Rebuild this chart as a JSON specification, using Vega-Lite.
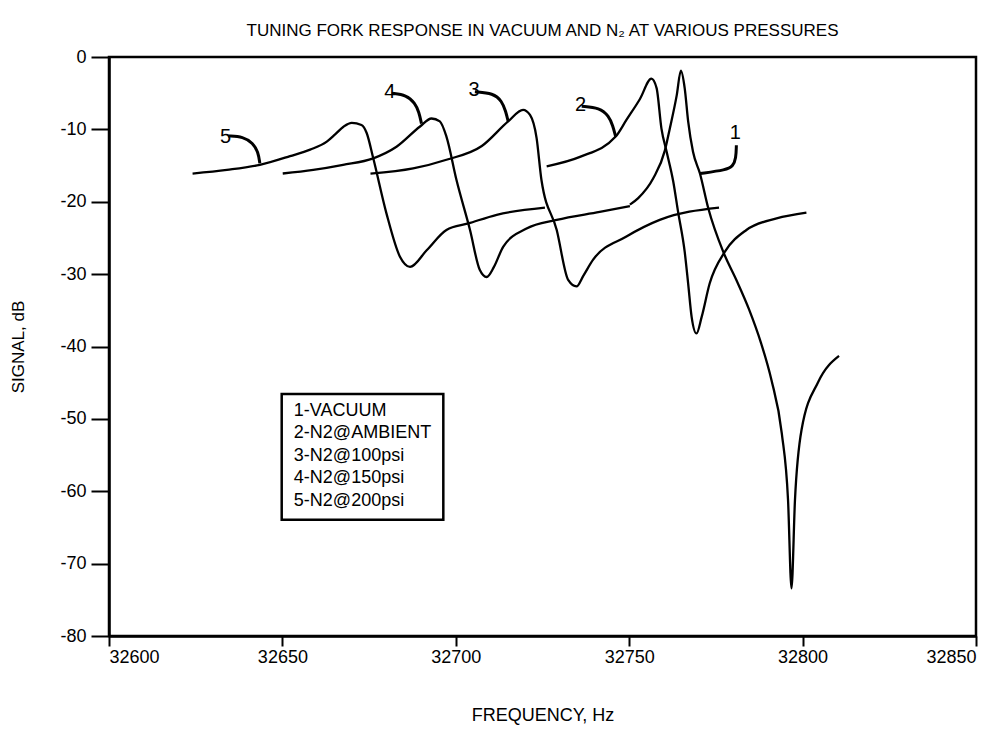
{
  "$schema": "https://vega.github.io/schema/vega-lite/v6.json",
  "width": 867,
  "height": 579,
  "autosize": {"type": "none"},
  "padding": {"left": 109, "top": 57, "right": 27, "bottom": 97},
  "background": "white",
  "title": {
    "text": "TUNING FORK RESPONSE IN VACUUM AND N₂ AT VARIOUS PRESSURES",
    "font": "Liberation Sans",
    "fontSize": 17,
    "fontWeight": "normal",
    "color": "black",
    "anchor": "middle",
    "offset": 8
  },
  "config": {
    "view": {"stroke": "black", "strokeWidth": 2.5},
    "axis": {
      "domainColor": "black",
      "domainWidth": 2.5,
      "tickColor": "black",
      "tickWidth": 2,
      "grid": false,
      "labelFont": "Liberation Sans",
      "labelFontSize": 18,
      "labelColor": "black",
      "titleFont": "Liberation Sans",
      "titleFontSize": 18,
      "titleFontWeight": "normal",
      "titleColor": "black"
    }
  },
  "datasets": {
    "curves": [
      {"series": "5", "f": 32624.1, "db": -16.1},
      {"series": "5", "f": 32634.0, "db": -15.6},
      {"series": "5", "f": 32643.5, "db": -14.9},
      {"series": "5", "f": 32652.2, "db": -13.7},
      {"series": "5", "f": 32658.0, "db": -12.8},
      {"series": "5", "f": 32662.8, "db": -11.7},
      {"series": "5", "f": 32665.2, "db": -10.7},
      {"series": "5", "f": 32667.7, "db": -9.6},
      {"series": "5", "f": 32670.0, "db": -9.1},
      {"series": "5", "f": 32672.8, "db": -9.4},
      {"series": "5", "f": 32674.3, "db": -10.5},
      {"series": "5", "f": 32676.2, "db": -14.0},
      {"series": "5", "f": 32680.0, "db": -21.6},
      {"series": "5", "f": 32683.9, "db": -27.6},
      {"series": "5", "f": 32686.8, "db": -29.0},
      {"series": "5", "f": 32691.6, "db": -26.7},
      {"series": "5", "f": 32697.3, "db": -23.9},
      {"series": "5", "f": 32703.6, "db": -23.0},
      {"series": "5", "f": 32711.8, "db": -21.8},
      {"series": "5", "f": 32725.7, "db": -20.8},

      {"series": "4", "f": 32650.1, "db": -16.1},
      {"series": "4", "f": 32658.9, "db": -15.6},
      {"series": "4", "f": 32667.5, "db": -14.9},
      {"series": "4", "f": 32676.2, "db": -14.0},
      {"series": "4", "f": 32682.9, "db": -12.4},
      {"series": "4", "f": 32689.7, "db": -9.6},
      {"series": "4", "f": 32693.0, "db": -8.5},
      {"series": "4", "f": 32695.4, "db": -8.9},
      {"series": "4", "f": 32697.3, "db": -11.0},
      {"series": "4", "f": 32700.2, "db": -17.0},
      {"series": "4", "f": 32704.1, "db": -23.9},
      {"series": "4", "f": 32706.9, "db": -29.4},
      {"series": "4", "f": 32708.9, "db": -30.4},
      {"series": "4", "f": 32711.0, "db": -29.0},
      {"series": "4", "f": 32713.7, "db": -26.2},
      {"series": "4", "f": 32720.4, "db": -23.7},
      {"series": "4", "f": 32729.1, "db": -22.5},
      {"series": "4", "f": 32741.5, "db": -21.4},
      {"series": "4", "f": 32750.2, "db": -20.6},

      {"series": "3", "f": 32675.4, "db": -16.1},
      {"series": "3", "f": 32687.7, "db": -15.4},
      {"series": "3", "f": 32697.3, "db": -14.2},
      {"series": "3", "f": 32707.5, "db": -12.3},
      {"series": "3", "f": 32715.1, "db": -8.9},
      {"series": "3", "f": 32719.4, "db": -7.3},
      {"series": "3", "f": 32721.4, "db": -8.0},
      {"series": "3", "f": 32723.3, "db": -11.2},
      {"series": "3", "f": 32724.7, "db": -17.0},
      {"series": "3", "f": 32729.1, "db": -23.9},
      {"series": "3", "f": 32732.4, "db": -30.8},
      {"series": "3", "f": 32734.8, "db": -31.7},
      {"series": "3", "f": 32736.8, "db": -30.2},
      {"series": "3", "f": 32739.6, "db": -28.0},
      {"series": "3", "f": 32749.2, "db": -24.8},
      {"series": "3", "f": 32758.8, "db": -22.5},
      {"series": "3", "f": 32775.9, "db": -20.8},

      {"series": "2", "f": 32726.2, "db": -15.1},
      {"series": "2", "f": 32735.8, "db": -13.8},
      {"series": "2", "f": 32746.1, "db": -11.0},
      {"series": "2", "f": 32749.2, "db": -8.7},
      {"series": "2", "f": 32753.1, "db": -5.8},
      {"series": "2", "f": 32756.4, "db": -3.0},
      {"series": "2", "f": 32757.9, "db": -4.3},
      {"series": "2", "f": 32759.3, "db": -9.9},
      {"series": "2", "f": 32760.8, "db": -13.1},
      {"series": "2", "f": 32762.7, "db": -17.2},
      {"series": "2", "f": 32764.1, "db": -21.4},
      {"series": "2", "f": 32766.0, "db": -26.9},
      {"series": "2", "f": 32767.0, "db": -31.3},
      {"series": "2", "f": 32768.0, "db": -35.9},
      {"series": "2", "f": 32769.4, "db": -38.2},
      {"series": "2", "f": 32770.9, "db": -35.9},
      {"series": "2", "f": 32773.2, "db": -31.3},
      {"series": "2", "f": 32777.6, "db": -26.9},
      {"series": "2", "f": 32783.8, "db": -23.9},
      {"series": "2", "f": 32792.5, "db": -22.3},
      {"series": "2", "f": 32801.1, "db": -21.5},

      {"series": "1", "f": 32750.2, "db": -20.4},
      {"series": "1", "f": 32752.6, "db": -19.5},
      {"series": "1", "f": 32756.9, "db": -16.8},
      {"series": "1", "f": 32760.3, "db": -12.9},
      {"series": "1", "f": 32761.7, "db": -9.9},
      {"series": "1", "f": 32763.7, "db": -5.3},
      {"series": "1", "f": 32764.9, "db": -1.9},
      {"series": "1", "f": 32766.0, "db": -4.3},
      {"series": "1", "f": 32767.0, "db": -8.9},
      {"series": "1", "f": 32768.4, "db": -13.1},
      {"series": "1", "f": 32770.4, "db": -16.1},
      {"series": "1", "f": 32772.8, "db": -20.9},
      {"series": "1", "f": 32777.1, "db": -26.9},
      {"series": "1", "f": 32780.9, "db": -30.8},
      {"series": "1", "f": 32784.5, "db": -34.8},
      {"series": "1", "f": 32788.0, "db": -39.5},
      {"series": "1", "f": 32791.0, "db": -44.6},
      {"series": "1", "f": 32794.0, "db": -52.0},
      {"series": "1", "f": 32795.8, "db": -61.2},
      {"series": "1", "f": 32796.8, "db": -73.4},
      {"series": "1", "f": 32797.8, "db": -61.2},
      {"series": "1", "f": 32799.7, "db": -51.5},
      {"series": "1", "f": 32804.5, "db": -44.9},
      {"series": "1", "f": 32810.5, "db": -41.3}
    ],
    "leaders": [
      {"id": "5", "f": 32634.4, "db": -10.9},
      {"id": "5", "f": 32638.7, "db": -11.0},
      {"id": "5", "f": 32641.5, "db": -11.9},
      {"id": "5", "f": 32643.0, "db": -13.1},
      {"id": "5", "f": 32643.5, "db": -14.7},
      {"id": "4", "f": 32681.5, "db": -5.0},
      {"id": "4", "f": 32685.8, "db": -5.25},
      {"id": "4", "f": 32688.2, "db": -6.35},
      {"id": "4", "f": 32689.4, "db": -7.6},
      {"id": "4", "f": 32690.1, "db": -9.2},
      {"id": "3", "f": 32705.5, "db": -4.8},
      {"id": "3", "f": 32710.8, "db": -5.0},
      {"id": "3", "f": 32713.3, "db": -6.1},
      {"id": "3", "f": 32714.4, "db": -7.5},
      {"id": "3", "f": 32715.1, "db": -8.9},
      {"id": "2", "f": 32736.3, "db": -6.8},
      {"id": "2", "f": 32741.5, "db": -7.0},
      {"id": "2", "f": 32744.1, "db": -8.15},
      {"id": "2", "f": 32745.3, "db": -9.5},
      {"id": "2", "f": 32746.1, "db": -11.0},
      {"id": "1", "f": 32780.9, "db": -12.2},
      {"id": "1", "f": 32780.8, "db": -14.0},
      {"id": "1", "f": 32779.9, "db": -15.1},
      {"id": "1", "f": 32778.1, "db": -15.6},
      {"id": "1", "f": 32770.4, "db": -16.1}
    ],
    "numbers": [
      {"t": "5", "f": 32633.6, "db": -11.0, "al": "right"},
      {"t": "4", "f": 32681.0, "db": -4.9, "al": "right"},
      {"t": "3", "f": 32705.3, "db": -4.6, "al": "right"},
      {"t": "2", "f": 32736.0, "db": -6.7, "al": "right"},
      {"t": "1", "f": 32780.6, "db": -10.5, "al": "center"}
    ],
    "box": [
      {"f1": 32649.8, "f2": 32696.4, "d1": -46.55, "d2": -63.95}
    ],
    "legend": [
      {"t": "1-VACUUM", "f": 32653.3, "db": -48.9},
      {"t": "2-N2@AMBIENT", "f": 32653.3, "db": -52.0},
      {"t": "3-N2@100psi", "f": 32653.3, "db": -55.1},
      {"t": "4-N2@150psi", "f": 32653.3, "db": -58.2},
      {"t": "5-N2@200psi", "f": 32653.3, "db": -61.3}
    ]
  },
  "encoding": {
    "x": {
      "field": "f",
      "type": "quantitative",
      "scale": {"domain": [32600, 32850], "nice": false, "zero": false},
      "axis": {
        "values": [32600, 32650, 32700, 32750, 32800, 32850],
        "labelExpr": "toString(datum.value)",
        "tickSize": 10,
        "labelPadding": 2,
        "title": "FREQUENCY, Hz",
        "titlePadding": 40
      }
    },
    "y": {
      "field": "db",
      "type": "quantitative",
      "scale": {"domain": [-80, 0], "nice": false, "zero": false},
      "axis": {
        "values": [0, -10, -20, -30, -40, -50, -60, -70, -80],
        "labelExpr": "toString(datum.value)",
        "tickSize": 18,
        "labelPadding": 5,
        "title": "SIGNAL, dB",
        "titleFontSize": 17,
        "titlePadding": 32
      }
    }
  },
  "layer": [
    {
      "data": {"name": "curves"},
      "mark": {"type": "line", "color": "black", "strokeWidth": 2.3, "interpolate": "monotone"},
      "encoding": {"detail": {"field": "series"}}
    },
    {
      "data": {"name": "leaders"},
      "mark": {"type": "line", "color": "black", "strokeWidth": 3, "interpolate": "basis"},
      "encoding": {"detail": {"field": "id"}, "order": {"field": "db", "sort": "descending"}}
    },
    {
      "data": {"name": "numbers"},
      "mark": {"type": "text", "color": "black", "fontSize": 20, "baseline": "middle", "font": "Liberation Sans"},
      "encoding": {"text": {"field": "t"}, "align": {"field": "al", "type": "nominal", "scale": null}}
    },
    {
      "data": {"name": "box"},
      "mark": {"type": "rect", "fill": "white", "stroke": "black", "strokeWidth": 2.5},
      "encoding": {
        "x": {"field": "f1", "type": "quantitative"},
        "x2": {"field": "f2"},
        "y": {"field": "d1", "type": "quantitative"},
        "y2": {"field": "d2"}
      }
    },
    {
      "data": {"name": "legend"},
      "mark": {"type": "text", "color": "black", "fontSize": 18, "align": "left", "baseline": "middle", "font": "Liberation Sans"},
      "encoding": {"text": {"field": "t"}}
    }
  ]
}
